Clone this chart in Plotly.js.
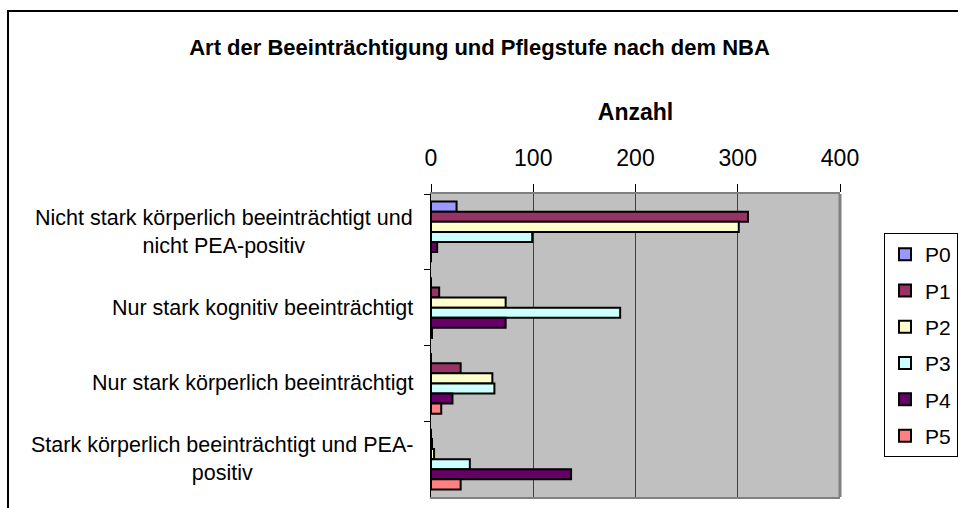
<!DOCTYPE html>
<html>
<head>
<meta charset="utf-8">
<script src="https://cdn.plot.ly/plotly-3.0.1.min.js"></script>
<style>html,body{margin:0;padding:0;background:#fff;}#chart{width:958px;height:508px;}</style>
</head>
<body>
<div id="chart"></div>
<script>
const categories = [
  "Nicht stark körperlich beeinträchtigt und nicht PEA-positiv",
  "Nur stark kognitiv beeinträchtigt",
  "Nur stark körperlich beeinträchtigt",
  "Stark körperlich beeinträchtigt und PEA-positiv"
];
const categoryLabels = [
  "Nicht stark körperlich beeinträchtigt und<br>nicht PEA-positiv",
  "Nur stark kognitiv beeinträchtigt",
  "Nur stark körperlich beeinträchtigt",
  "Stark körperlich beeinträchtigt und PEA-<br>positiv"
];
const seriesNames = ["P0", "P1", "P2", "P3", "P4", "P5"];
const P0 = [25, 0, 0, 0];
const P1 = [310, 8, 29, 1];
const P2 = [301, 73, 60, 3];
const P3 = [99, 185, 62, 38];
const P4 = [6, 73, 21, 137];
const P5 = [0, 1, 10, 29];
const seriesValues = [P0, P1, P2, P3, P4, P5];
const seriesColors = ["#9999FF", "#993366", "#FFFFCC", "#CCFFFF", "#660066", "#FF8080"];
const xTickValues = [0, 100, 200, 300, 400];

const FONT = "Liberation Sans, Arial, sans-serif";

const traces = seriesNames.map((name, i) => ({
  type: "bar",
  orientation: "h",
  name: name,
  legendgroup: name,
  x: seriesValues[i],
  y: categories,
  marker: { color: seriesColors[i], line: { color: "#000", width: 2 } },
  hoverinfo: "x+name"
}));

// plot area in pixels: left 431, right 840, top 194, bottom 497
const L = 431, R = 840, T = 194, B = 497;
const W = R - L, H = B - T;
const px = v => (v - L) / W;
const py = v => (B - v) / H;

const annotations = categories.map((c, i) => ({
  xref: "paper", yref: "y",
  x: px(415), y: c,
  xanchor: "right", yanchor: "middle",
  align: "center",
  text: categoryLabels[i],
  showarrow: false,
  font: { family: FONT, size: 21.5, color: "#000" }
}));

const layout = {
  width: 958, height: 508,
  margin: { l: L, r: 958 - R, t: T, b: 508 - B, pad: 0, autoexpand: false },
  paper_bgcolor: "#fff",
  plot_bgcolor: "#C0C0C0",
  font: { family: FONT, color: "#000" },
  title: {
    text: "<b>Art der Beeinträchtigung und Pflegstufe nach dem NBA</b>",
    font: { family: FONT, size: 22, color: "#000" },
    x: 479.5 / 958, xref: "container", xanchor: "center",
    y: 1 - 47 / 508, yref: "container", yanchor: "middle"
  },
  barmode: "group",
  bargap: 0.2,
  bargroupgap: 0,
  showlegend: true,
  legend: {
    xref: "container", yref: "container",
    x: 884 / 958, y: 1 - 233 / 508, xanchor: "left", yanchor: "top",
    bordercolor: "#000", borderwidth: 1, bgcolor: "#fff",
    font: { family: FONT, size: 21, color: "#000" },
    tracegroupgap: 6,
    traceorder: "grouped"
  },
  xaxis: {
    side: "top",
    range: [0, 400],
    tickvals: xTickValues,
    ticktext: xTickValues.map(String),
    ticks: "outside", ticklen: 8, tickcolor: "#000", tickwidth: 1,
    ticklabelstandoff: 9,
    tickfont: { family: FONT, size: 23, color: "#000" },
    showgrid: true, gridcolor: "#404040", gridwidth: 1,
    showline: true, linecolor: "#808080", linewidth: 2, mirror: true,
    zeroline: false,
    fixedrange: true,
    title: { text: "<b>Anzahl</b>", font: { family: FONT, size: 23, color: "#000" }, standoff: 18 }
  },
  yaxis: {
    type: "category",
    autorange: "reversed",
    showticklabels: false,
    ticks: "outside", ticklen: 6, tickcolor: "#000", tickson: "boundaries",
    showgrid: false, zeroline: false,
    showline: true, linecolor: "#000", linewidth: 1,
    fixedrange: true
  },
  annotations: annotations,
  shapes: [
    { type: "line", xref: "paper", yref: "paper", x0: 1, x1: 1, y0: 0, y1: 1,
      line: { color: "#808080", width: 3 } },
    { type: "rect", xref: "paper", yref: "paper",
      x0: px(8), x1: px(975), y0: py(530), y1: py(11),
      line: { color: "#000", width: 2 }, fillcolor: "rgba(0,0,0,0)", layer: "above" }
  ]
};

Plotly.newPlot("chart", traces, layout, { displayModeBar: false, staticPlot: true });
</script>
</body>
</html>
